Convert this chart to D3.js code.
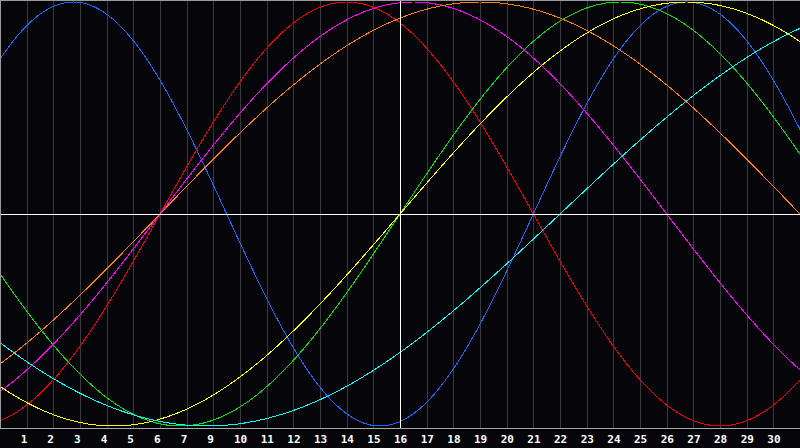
<!DOCTYPE html>
<html>
<head>
<meta charset="utf-8">
<script src="https://cdn.jsdelivr.net/npm/d3@7"></script>
<style>
  html, body { margin: 0; padding: 0; background: #060509; }
  svg { display: block; }
</style>
</head>
<body>
<svg></svg>
<script>
/*------------------------
  ------ VARIABLES -------
  ------------------------*/

// input
var cycles = ["Physical", "Emotional", "Intellectual", "Intuitive", "Aesthetic", "Awareness", "Spiritual"];
var periods = [23, 28, 33, 38, 43, 48, 53];
// day (from left edge) where each cycle crosses zero going up
var zero_days = [20, 6, 15, 6, 15, 6, 21];
var day_labels = [1, 2, 3, 4, 5, 6, 7, 9, 10, 11, 12, 13, 14, 15, 16,
                  17, 18, 19, 20, 21, 22, 23, 24, 25, 26, 27, 28, 29, 30];
var nb_days = 30;
var today = 15;

// display
var size = {width: 800, height: 448};
var plot = {top: 0, bot: 428};
var colors = ["#1469ff", "#f00000", "#00e600", "#ff00ff", "#ffff00", "#ff8000", "#00ffff"];

var svg = d3.select("svg")
    .attr("width", size.width)
    .attr("height", size.height);

var x = d3.scaleLinear().domain([0, nb_days]).range([0, size.width]);
var y = d3.scaleLinear().domain([-1, 1]).range([plot.bot - 2, plot.top + 2]);

/*------------------------
  -------- GRID ----------
  ------------------------*/

svg.append("rect")
    .attr("width", size.width).attr("height", size.height)
    .attr("fill", "#060509");

svg.append("g")
    .selectAll("line")
    .data(d3.range(1, nb_days))
    .enter()
    .append("line")
    .attr("x1", function(d) { return Math.round(x(d)) + 0.5; })
    .attr("x2", function(d) { return Math.round(x(d)) + 0.5; })
    .attr("y1", plot.top)
    .attr("y2", plot.bot)
    .attr("stroke", "#3a3a3a")
    .attr("shape-rendering", "crispEdges");

/*------------------------
  ------- CURVES ---------
  ------------------------*/

var line = d3.line()
    .x(function(p) { return x(p[0]); })
    .y(function(p) { return y(p[1]); });

function cycle_points(i) {
    return d3.range(0, nb_days + 0.05, 0.05).map(function(d) {
        return [d, Math.sin(2 * Math.PI * (d - zero_days[i]) / periods[i])];
    });
}

svg.append("g")
    .selectAll("path")
    .data(cycles)
    .enter()
    .append("path")
    .attr("d", function(c, i) { return line(cycle_points(i)); })
    .attr("fill", "none")
    .attr("stroke", function(c, i) { return colors[i]; })
    .attr("stroke-width", 1)
    .attr("shape-rendering", "crispEdges");

// today / zero lines
svg.append("line")
    .attr("x1", x(today) + 0.5).attr("x2", x(today) + 0.5)
    .attr("y1", plot.top).attr("y2", plot.bot)
    .attr("stroke", "#ffffff").attr("shape-rendering", "crispEdges");
svg.append("line")
    .attr("x1", 0).attr("x2", size.width)
    .attr("y1", Math.round(y(0)) + 0.5).attr("y2", Math.round(y(0)) + 0.5)
    .attr("stroke", "#ffffff").attr("shape-rendering", "crispEdges");

// frame
svg.append("path")
    .attr("d", "M0.5," + (plot.bot + 0.5) + "V0.5H" + size.width)
    .attr("fill", "none")
    .attr("stroke", "#9a9a9a")
    .attr("shape-rendering", "crispEdges");
svg.append("line")
    .attr("x1", 0).attr("x2", size.width)
    .attr("y1", plot.bot + 0.5).attr("y2", plot.bot + 0.5)
    .attr("stroke", "#a8a8a8")
    .attr("shape-rendering", "crispEdges");

/*------------------------
  ------- LABELS ---------
  ------------------------*/

svg.append("g")
    .selectAll("text")
    .data(day_labels)
    .enter()
    .append("text")
    .attr("x", function(d, i) { return x(i + 1) - 6; })
    .attr("y", 443)
    .attr("fill", "#ffffff")
    .attr("font-family", "DejaVu Sans Mono")
    .attr("font-weight", "bold")
    .attr("font-size", "11px")
    .text(function(d) { return d; });
</script>
</body>
</html>
